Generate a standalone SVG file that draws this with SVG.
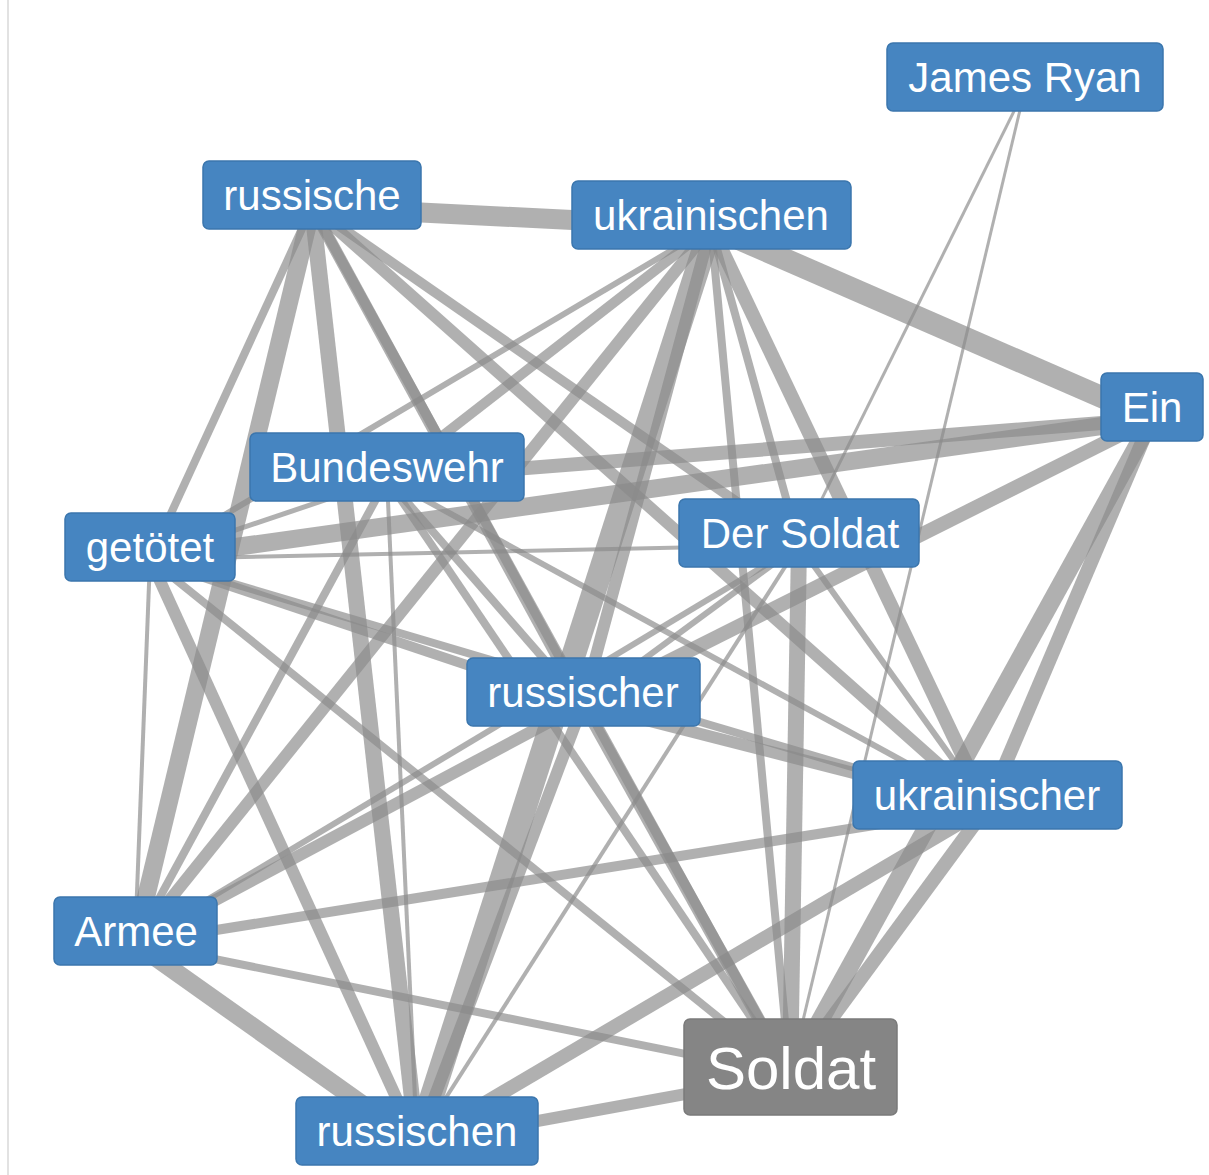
<svg xmlns="http://www.w3.org/2000/svg" width="1209" height="1175" viewBox="0 0 1209 1175">
<style>
.e{stroke:#8a8a8a;stroke-opacity:0.68;stroke-linecap:butt;fill:none}
.n rect{fill:#4685c1;stroke:#3b76ad;stroke-width:1.5}
.n text{font-family:"Liberation Sans",Arial,sans-serif;font-size:42px;fill:#ffffff;text-anchor:middle}
.s rect{fill:#858585;stroke:#7a7a7a;stroke-width:1.5}
.s text{font-family:"Liberation Sans",Arial,sans-serif;font-size:60px;fill:#ffffff;text-anchor:middle}
</style>
<rect x="0" y="0" width="1209" height="1175" fill="#ffffff"/>
<line x1="8" y1="0" x2="8" y2="1175" stroke="#e2e2e2" stroke-width="2"/>
<g id="connectors">
<line class="e" x1="1025" y1="89" x2="799" y2="545" stroke-width="3"/>
<line class="e" x1="1025" y1="89" x2="790" y2="1075" stroke-width="3"/>
<line class="e" x1="312" y1="207" x2="711" y2="227" stroke-width="20"/>
<line class="e" x1="711" y1="227" x2="1152" y2="419" stroke-width="22"/>
<line class="e" x1="312" y1="207" x2="150" y2="559" stroke-width="8"/>
<line class="e" x1="312" y1="207" x2="135" y2="943" stroke-width="18"/>
<line class="e" x1="312" y1="207" x2="417" y2="1143" stroke-width="16"/>
<line class="e" x1="312" y1="207" x2="583" y2="704" stroke-width="12"/>
<line class="e" x1="312" y1="207" x2="790" y2="1075" stroke-width="10"/>
<line class="e" x1="312" y1="207" x2="799" y2="545" stroke-width="10"/>
<line class="e" x1="312" y1="207" x2="987" y2="807" stroke-width="12"/>
<line class="e" x1="711" y1="227" x2="150" y2="559" stroke-width="6"/>
<line class="e" x1="711" y1="227" x2="387" y2="479" stroke-width="10"/>
<line class="e" x1="711" y1="227" x2="135" y2="943" stroke-width="12"/>
<line class="e" x1="711" y1="227" x2="417" y2="1143" stroke-width="24"/>
<line class="e" x1="711" y1="227" x2="583" y2="704" stroke-width="12"/>
<line class="e" x1="711" y1="227" x2="790" y2="1075" stroke-width="8"/>
<line class="e" x1="711" y1="227" x2="799" y2="545" stroke-width="8"/>
<line class="e" x1="711" y1="227" x2="987" y2="807" stroke-width="14"/>
<line class="e" x1="1152" y1="419" x2="387" y2="479" stroke-width="14"/>
<line class="e" x1="1152" y1="419" x2="150" y2="559" stroke-width="18"/>
<line class="e" x1="1152" y1="419" x2="583" y2="704" stroke-width="14"/>
<line class="e" x1="1152" y1="419" x2="790" y2="1075" stroke-width="18"/>
<line class="e" x1="1152" y1="419" x2="987" y2="807" stroke-width="14"/>
<line class="e" x1="387" y1="479" x2="150" y2="559" stroke-width="5"/>
<line class="e" x1="387" y1="479" x2="135" y2="943" stroke-width="8"/>
<line class="e" x1="387" y1="479" x2="417" y2="1143" stroke-width="4"/>
<line class="e" x1="387" y1="479" x2="790" y2="1075" stroke-width="8"/>
<line class="e" x1="387" y1="479" x2="583" y2="704" stroke-width="8"/>
<line class="e" x1="387" y1="479" x2="987" y2="807" stroke-width="6"/>
<line class="e" x1="150" y1="559" x2="799" y2="545" stroke-width="4"/>
<line class="e" x1="150" y1="559" x2="135" y2="943" stroke-width="4"/>
<line class="e" x1="150" y1="559" x2="417" y2="1143" stroke-width="12"/>
<line class="e" x1="150" y1="559" x2="790" y2="1075" stroke-width="8"/>
<line class="e" x1="150" y1="559" x2="583" y2="704" stroke-width="10"/>
<line class="e" x1="150" y1="559" x2="987" y2="807" stroke-width="8"/>
<line class="e" x1="135" y1="943" x2="799" y2="545" stroke-width="6"/>
<line class="e" x1="135" y1="943" x2="583" y2="704" stroke-width="12"/>
<line class="e" x1="135" y1="943" x2="987" y2="807" stroke-width="10"/>
<line class="e" x1="135" y1="943" x2="790" y2="1075" stroke-width="8"/>
<line class="e" x1="135" y1="943" x2="417" y2="1143" stroke-width="18"/>
<line class="e" x1="417" y1="1143" x2="583" y2="704" stroke-width="12"/>
<line class="e" x1="417" y1="1143" x2="799" y2="545" stroke-width="4"/>
<line class="e" x1="417" y1="1143" x2="987" y2="807" stroke-width="14"/>
<line class="e" x1="417" y1="1143" x2="790" y2="1075" stroke-width="12"/>
<line class="e" x1="583" y1="704" x2="987" y2="807" stroke-width="12"/>
<line class="e" x1="583" y1="704" x2="790" y2="1075" stroke-width="12"/>
<line class="e" x1="583" y1="704" x2="799" y2="545" stroke-width="6"/>
<line class="e" x1="799" y1="545" x2="790" y2="1075" stroke-width="16"/>
<line class="e" x1="799" y1="545" x2="987" y2="807" stroke-width="6"/>
<line class="e" x1="987" y1="807" x2="790" y2="1075" stroke-width="14"/>
</g>
<g id="node-james-ryan" class="n"><rect x="887" y="43" width="276" height="68" rx="6"/><text x="1025" y="92">James Ryan</text></g>
<g id="node-russische" class="n"><rect x="203" y="161" width="218" height="68" rx="6"/><text x="312" y="210">russische</text></g>
<g id="node-ukrainischen" class="n"><rect x="572" y="181" width="279" height="68" rx="6"/><text x="711" y="230">ukrainischen</text></g>
<g id="node-ein" class="n"><rect x="1101" y="373" width="102" height="68" rx="6"/><text x="1152" y="422">Ein</text></g>
<g id="node-bundeswehr" class="n"><rect x="250" y="433" width="274" height="68" rx="6"/><text x="387" y="482">Bundeswehr</text></g>
<g id="node-getoetet" class="n"><rect x="65" y="513" width="170" height="68" rx="6"/><text x="150" y="562">getötet</text></g>
<g id="node-der-soldat" class="n"><rect x="679" y="499" width="240" height="68" rx="6"/><text x="800" y="548">Der Soldat</text></g>
<g id="node-russischer" class="n"><rect x="467" y="658" width="233" height="68" rx="6"/><text x="583" y="707">russischer</text></g>
<g id="node-ukrainischer" class="n"><rect x="853" y="761" width="269" height="68" rx="6"/><text x="987" y="810">ukrainischer</text></g>
<g id="node-armee" class="n"><rect x="54" y="897" width="163" height="68" rx="6"/><text x="136" y="946">Armee</text></g>
<g id="node-russischen" class="n"><rect x="296" y="1097" width="242" height="68" rx="6"/><text x="417" y="1146">russischen</text></g>
<g id="node-soldat" class="s"><rect x="684" y="1019" width="213" height="96" rx="6"/><text x="791" y="1089">Soldat</text></g>
</svg>
